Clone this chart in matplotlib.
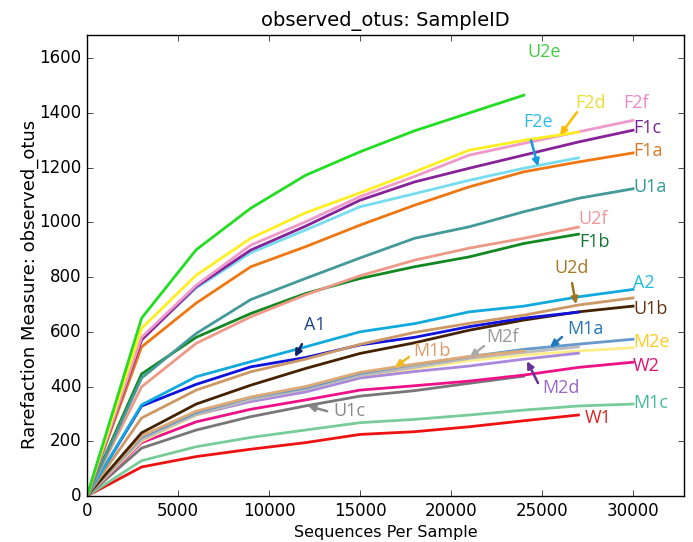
import matplotlib
matplotlib.use("Agg")
import matplotlib.pyplot as plt

plt.style.use("classic")

# sampling depths
depths = [0, 3000, 6000, 9000, 12000, 15000, 18000, 21000, 24000, 27000, 30000]

# observed otus per sample
W1 = [0, 106, 144, 171, 195, 225, 235, 253, 275, 296]
M1c = [0, 129, 180, 214, 241, 268, 280, 296, 314, 329, 336]
U1c = [0, 175, 241, 290, 329, 365, 385, 412, 438]
W2 = [0, 195, 271, 317, 351, 387, 403, 420, 442, 470, 489]
M2e = [0, 200, 295, 348, 385, 437, 465, 495, 515, 530, 542]
M2d = [0, 210, 298, 345, 380, 431, 455, 475, 500, 522]
M2f = [0, 205, 298, 352, 390, 440, 470, 503, 525, 545]
M1a = [0, 215, 305, 360, 395, 448, 480, 509, 536, 555, 573]
M1b = [0, 220, 310, 362, 400, 452, 482, 510, 530]
U1b = [0, 231, 336, 405, 466, 521, 560, 606, 643, 673, 694]
A1 = [0, 329, 408, 472, 506, 552, 580, 619, 650, 672]
U2d = [0, 285, 387, 454, 500, 554, 598, 631, 661, 698, 724]
A2 = [0, 333, 436, 491, 545, 600, 630, 673, 694, 728, 755]
F1b = [0, 446, 580, 667, 740, 795, 838, 874, 923, 957]
U2f = [0, 399, 558, 655, 735, 805, 862, 906, 942, 983]
U1a = [0, 431, 594, 718, 795, 870, 942, 984, 1039, 1088, 1123]
F1a = [0, 545, 705, 838, 911, 990, 1063, 1130, 1185, 1221, 1254]
F2e = [0, 575, 760, 889, 972, 1057, 1105, 1154, 1198, 1236]
F1c = [0, 570, 765, 899, 986, 1081, 1148, 1198, 1246, 1294, 1337]
F2f = [0, 580, 770, 917, 1002, 1094, 1168, 1246, 1289, 1331, 1373]
F2d = [0, 613, 807, 942, 1035, 1108, 1185, 1264, 1300, 1330]
U2e = [0, 650, 900, 1052, 1172, 1258, 1335, 1400, 1465]

# (name, values, line colour) in drawing order
series = [
    ("W1", W1, "#ee1111"),
    ("M1c", M1c, "#77cc99"),
    ("U1c", U1c, "#777777"),
    ("W2", W2, "#ee1188"),
    ("M2e", M2e, "#ffee88"),
    ("M2d", M2d, "#aa88dd"),
    ("M2f", M2f, "#bbbbbb"),
    ("M1a", M1a, "#6699cc"),
    ("M1b", M1b, "#ddaa77"),
    ("U1b", U1b, "#442200"),
    ("A1", A1, "#1111dd"),
    ("U2d", U2d, "#cc9966"),
    ("A2", A2, "#11aadd"),
    ("F1b", F1b, "#118822"),
    ("U2f", U2f, "#ee9988"),
    ("U1a", U1a, "#449999"),
    ("F1a", F1a, "#ee7711"),
    ("F2e", F2e, "#77ddee"),
    ("F1c", F1c, "#882299"),
    ("F2f", F2f, "#ee99cc"),
    ("F2d", F2d, "#ffee22"),
    ("U2e", U2e, "#22dd22"),
]

# label text, position, text colour
labels = [
    ("U2e", 24200, 1622, "#44cc44"),
    ("F2d", 26800, 1436, "#eedd33"),
    ("F2f", 29450, 1436, "#ee88cc"),
    ("F2e", 23950, 1366, "#33bbee"),
    ("F1c", 30000, 1344, "#772299"),
    ("F1a", 30000, 1260, "#dd7722"),
    ("U1a", 30000, 1129, "#339999"),
    ("U2f", 27000, 1012, "#ee9999"),
    ("F1b", 27050, 928, "#117733"),
    ("U2d", 25700, 833, "#aa7722"),
    ("A2", 30000, 778, "#22bbdd"),
    ("U1b", 30000, 683, "#663311"),
    ("M1a", 26400, 610, "#2277bb"),
    ("M2e", 30000, 563, "#ffcc22"),
    ("W2", 30000, 475, "#dd1177"),
    ("M2d", 25000, 395, "#9966cc"),
    ("M1c", 30000, 340, "#44bb99"),
    ("W1", 27350, 285, "#dd2222"),
    ("A1", 11900, 625, "#224488"),
    ("M1b", 17900, 530, "#dd9966"),
    ("M2f", 21950, 581, "#999999"),
    ("U1c", 13550, 310, "#888888"),
]

# arrows: start, tip, colour
arrows = [
    ((26920, 1403), (25990, 1319), "#ffbb00"),
    ((24400, 1300), (24780, 1205), "#1199dd"),
    ((26650, 778), (26870, 701), "#997722"),
    ((11810, 555), (11430, 508), "#112266"),
    ((17690, 508), (16920, 471), "#eebb22"),
    ((21810, 548), (21040, 508), "#aaaaaa"),
    ((26100, 581), (25440, 544), "#2277bb"),
    ((24780, 413), (24180, 493), "#663399"),
    ((13190, 310), (12140, 329), "#888888"),
]

fig = plt.figure(figsize=(6.93, 5.42), dpi=100, facecolor="white")
ax = fig.add_axes([0.1255, 0.0849, 0.8615, 0.8505])

for name, vals, col in series:
    ax.plot(depths[:len(vals)], vals, color=col, lw=2)

for txt, x, y, col in labels:
    ax.text(x, y, txt, color=col, fontsize=13, family="Open Sans",
            ha="left", va="center")

for (x0, y0), (x1, y1), col in arrows:
    ax.annotate("", xy=(x1, y1), xytext=(x0, y0),
                arrowprops=dict(arrowstyle="-|>", color=col, lw=1.8,
                                mutation_scale=10, shrinkA=0, shrinkB=0))

ax.set_xlim(0, 32800)
ax.set_ylim(0, 1685)
ax.set_xticks(range(0, 30001, 5000))
ax.set_yticks(range(0, 1601, 200))
ax.tick_params(labelsize=12, pad=4)
ax.set_xlabel("Sequences Per Sample", fontsize=11.5, labelpad=4)
ax.set_ylabel("Rarefaction Measure: observed_otus", fontsize=13)
ax.yaxis.set_label_coords(-0.08, 0.458)
ax.set_title("observed_otus: SampleID", fontsize=14, y=1.005)

fig.savefig("out.png", dpi=100, facecolor="white")
